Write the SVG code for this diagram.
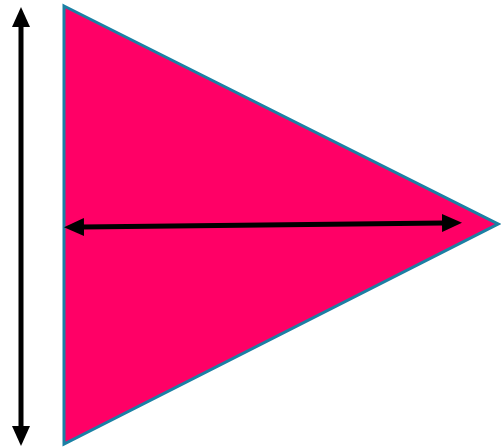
<svg xmlns="http://www.w3.org/2000/svg" width="501" height="447" viewBox="0 0 501 447">
<style>
.conn{stroke:#000;stroke-width:5;fill:none}
</style>
<defs>
<marker id="ah" viewBox="0 0 20 18" refX="2" refY="9" markerWidth="20" markerHeight="18" orient="auto-start-reverse" markerUnits="userSpaceOnUse">
<path d="M0,0 L20,9 L0,18 Z" fill="#000"/>
</marker>
</defs>
<g id="triangle">
<polygon points="64,6 498,224 64,444" fill="#FF0066" stroke="#1B80A4" stroke-width="3" stroke-linejoin="miter"/>
</g>
<g id="connectors">
<line class="conn" x1="21" y1="25" x2="21" y2="428" marker-start="url(#ah)" marker-end="url(#ah)"/>
<line class="conn" x1="82" y1="227" x2="444" y2="223" marker-start="url(#ah)" marker-end="url(#ah)"/>
</g>
</svg>
